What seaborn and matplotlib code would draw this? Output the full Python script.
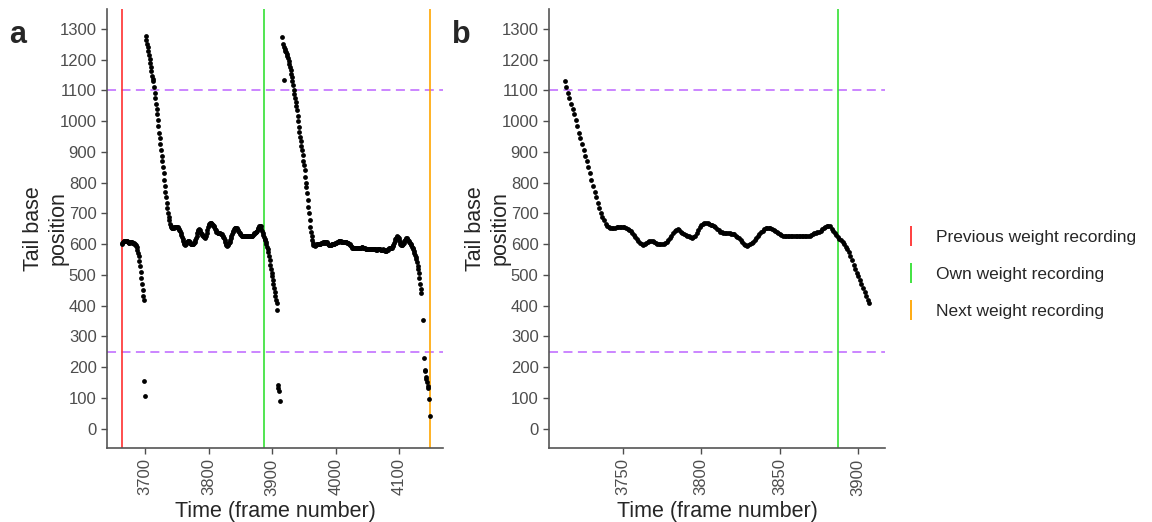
import numpy as np
import pandas as pd
import seaborn as sns
import matplotlib.pyplot as plt
from matplotlib.lines import Line2D

# tail base position per video frame
seg1_start = 3663
seg1_pos = [600, 603, 606, 609, 611, 611, 610, 609, 611, 610,
            607, 605, 605, 606, 606, 607, 606, 605, 604, 603,
            601, 600, 598, 595, 590, 582, 572, 560, 546, 530,
            510, 490, 470, 452, 430, 418]
drop1_frames = [3699, 3700]
drop1_pos = [155, 106]

seg2_start = 3701
seg2_pos = [1277, 1265, 1252, 1240, 1228, 1215, 1202, 1190, 1176, 1162, 1148, 1138,
            1130, 1110, 1092, 1075, 1057, 1040, 1022, 1005, 985, 962, 945, 925, 906, 888,
            870, 852, 832, 810, 788, 770, 752, 733, 718, 703, 690, 678, 667, 660,
            656, 652, 651, 652, 654, 656, 657, 657, 656, 656,
            655, 653, 650, 647, 643, 637, 630, 623, 616, 609,
            603, 599, 598, 600, 604, 608, 611, 611, 609, 606,
            603, 601, 600, 600, 600, 601, 603, 607, 613, 620,
            628, 636, 643, 647, 648, 645, 640, 636, 633, 630,
            628, 625, 622, 621, 622, 626, 635, 645, 655, 662,
            666, 669, 670, 669, 667, 664, 661, 658, 655, 650,
            645, 641, 638, 637, 636, 636, 636, 635, 634, 632,
            632, 628, 623, 619, 614, 607, 600, 596, 595, 597,
            601, 605, 608, 613, 619, 625, 632, 638, 643, 648,
            651, 653, 653, 651, 648, 646, 644, 641, 637, 633,
            630, 628, 627, 626, 626, 626, 626, 626, 626, 626,
            626, 626, 626, 626, 626, 626, 626, 626, 627, 629,
            632, 635, 637, 639, 641, 644, 648, 652, 656, 659,
            660, 658, 650, 643, 637, 630, 624, 618, 613, 607,
            600, 592, 583, 573, 562, 547, 533, 520, 507, 495,
            483, 470, 458, 444, 432, 420, 409, 385]
drop2_frames = [3909, 3910, 3911, 3912]
drop2_pos = [141, 131, 122, 90]

seg3_start = 3916
seg3_pos = [1275, 1250, 1133, 1242, 1236, 1230, 1224, 1218, 1211, 1204,
            1196, 1186, 1175, 1165, 1155, 1145, 1130, 1117, 1103, 1090,
            1077, 1063, 1049, 1036, 1018, 1000, 982, 966, 950, 934,
            920, 905, 890, 872, 856, 840, 820, 800, 787, 765,
            744, 722, 700, 678, 657, 640, 625, 612, 603, 598,
            596, 595, 596, 597, 600, 602, 601, 600, 599, 600,
            601, 603, 604, 605, 606, 606, 605, 605, 606, 607,
            606, 603, 600, 597, 596, 596, 597, 598, 599, 600,
            600, 601, 602, 603, 604, 605, 606, 607, 608, 609,
            610, 610, 609, 608, 608, 608, 608, 608, 608, 607,
            607, 606, 605, 604, 603, 601, 599, 596, 593, 590,
            588, 587, 586, 586, 586, 586, 586, 587, 587, 587,
            587, 587, 587, 588, 589, 590, 590, 589, 588, 587,
            586, 585, 584, 584, 584, 585, 585, 585, 584, 584,
            584, 583, 583, 583, 584, 584, 584, 583, 582, 582,
            583, 583, 584, 584, 583, 582, 581, 581, 582, 583,
            582, 580, 578, 577, 578, 580, 582, 584, 586, 587,
            588, 588, 589, 590, 593, 598, 604, 610, 616, 621,
            624, 625, 624, 620, 614, 607, 601, 598, 597, 598,
            601, 605, 610, 615, 618, 620, 620, 618, 614, 610,
            606, 603, 600, 596, 592, 588, 583, 578, 572, 566,
            559, 551, 541, 530, 518, 505, 490, 472, 455, 442]
tail_frames = [4137, 4139, 4140, 4141, 4142, 4143, 4144, 4145, 4146, 4147, 4148]
tail_pos = [353, 231, 190, 186, 169, 160, 152, 140, 131, 98, 42]

# weight recordings and thresholds
prev_frame = 3664
own_frame = 3887
next_frame = 4148
thresholds = [250, 1100]
b_first, b_last = 3713, 3907

frames = (list(range(seg1_start, seg1_start + len(seg1_pos))) + drop1_frames
          + list(range(seg2_start, seg2_start + len(seg2_pos))) + drop2_frames
          + list(range(seg3_start, seg3_start + len(seg3_pos))) + tail_frames)
pos = seg1_pos + drop1_pos + seg2_pos + drop2_pos + seg3_pos + tail_pos
df = pd.DataFrame({'frame': frames, 'pos': pos})
df_b = df[(df['frame'] >= b_first) & (df['frame'] <= b_last)]

sns.set_style('ticks')
plt.rcParams['font.family'] = ['Liberation Sans', 'DejaVu Sans']

RED, GREEN, ORANGE, PURPLE = '#ff3030', '#33e033', '#ffa500', '#c77cff'

fig = plt.figure(figsize=(11.52, 5.22), dpi=100)
ax_a = fig.add_axes([107 / 1152, 1 - 448 / 522, 336 / 1152, 439 / 522])
ax_b = fig.add_axes([549 / 1152, 1 - 448 / 522, 336 / 1152, 439 / 522])

for ax, data in [(ax_a, df), (ax_b, df_b)]:
    for t in thresholds:
        ax.axhline(t, color=PURPLE, lw=1.3, ls=(0, (5, 3)), zorder=1)
    sns.scatterplot(data=data, x='frame', y='pos', ax=ax, color='black',
                    s=12, linewidth=0, zorder=3)
    ax.set_ylim(-63, 1365)
    ax.set_yticks(range(0, 1301, 100))
    ax.set_xlabel('Time (frame number)', fontsize=15.5, labelpad=4)
    ax.set_ylabel('Tail base\nposition', fontsize=15.5)
    ax.yaxis.set_label_coords(-0.115, 0.5)
    ax.tick_params(axis='both', labelsize=12, colors='#4d4d4d', length=4, width=1)
    ax.tick_params(axis='x', labelrotation=90)
    for side in ['left', 'bottom']:
        ax.spines[side].set_color('#555555')
        ax.spines[side].set_linewidth(1.2)
    sns.despine(ax=ax)

ax_a.axvline(prev_frame, color=RED, lw=1.2, zorder=2)
ax_a.axvline(own_frame, color=GREEN, lw=1.2, zorder=2)
ax_a.axvline(next_frame, color=ORANGE, lw=1.2, zorder=2)
ax_b.axvline(own_frame, color=GREEN, lw=1.2, zorder=2)

ax_a.set_xlim(3640, 4169)
ax_a.set_xticks([3700, 3800, 3900, 4000, 4100])
ax_b.set_xlim(3703, 3917)
ax_b.set_xticks([3750, 3800, 3850, 3900])

fig.text(0.008, 0.918, 'a', fontsize=22, fontweight='bold')
fig.text(0.392, 0.918, 'b', fontsize=22, fontweight='bold')

handles = [Line2D([], [], color=c, marker='|', ls='None', markersize=15, mew=1.3)
           for c in [RED, GREEN, ORANGE]]
labels = ['Previous weight recording', 'Own weight recording', 'Next weight recording']
fig.legend(handles, labels, loc='center left', bbox_to_anchor=(0.770, 0.474),
           frameon=False, fontsize=12.5, handlelength=1.0, handletextpad=0.9,
           labelspacing=1.25)

fig.savefig('out.png', dpi=100)
